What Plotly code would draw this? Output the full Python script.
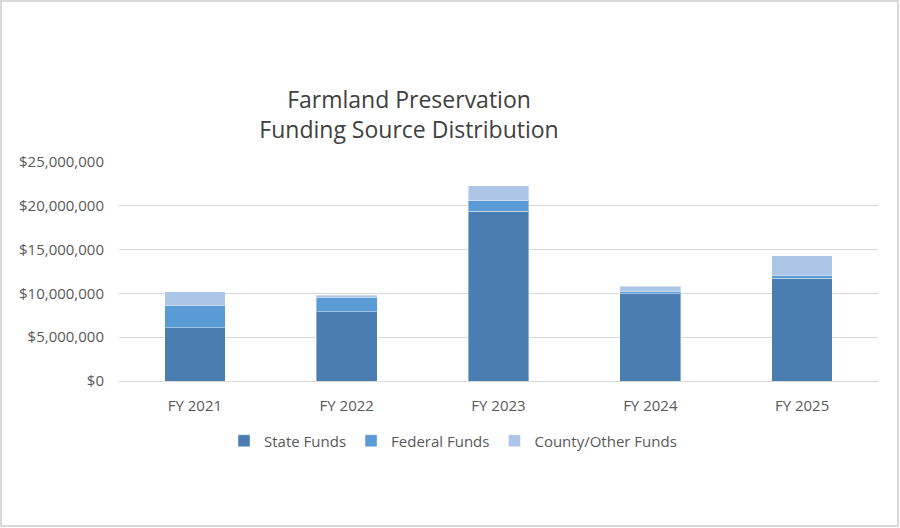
import plotly.graph_objects as go

# Funding by fiscal year (dollars)
years = ["FY 2021", "FY 2022", "FY 2023", "FY 2024", "FY 2025"]
state_funds = [6070000, 7890000, 19350000, 9940000, 11720000]
federal_funds = [2580000, 1670000, 1210000, 230000, 340000]
county_funds = [1520000, 230000, 1710000, 640000, 2240000]

series = [
    ("State Funds", state_funds, "#4a7eb0"),
    ("Federal Funds", federal_funds, "#5b9bd5"),
    ("County/Other Funds", county_funds, "#adc5e6"),
]

fig = go.Figure()
for name, vals, color in series:
    fig.add_trace(go.Bar(
        x=years, y=vals, name=name,
        marker=dict(color=color, line=dict(color="rgba(255,255,255,0.4)", width=1)),
    ))

# margins in px, used also for the outer border
ml, mr, mt, mb = 119, 22, 162, 147
W, H = 900, 528
pw, ph = W - ml - mr, H - mt - mb

fig.update_layout(
    width=W, height=H,
    barmode="stack",
    bargap=0.6,
    plot_bgcolor="white",
    paper_bgcolor="white",
    font=dict(family="Open Sans", size=15, color="#595959"),
    margin=dict(l=ml, r=mr, t=mt, b=mb),
    title=dict(
        text="Farmland Preservation<br>Funding Source Distribution",
        x=409 / W, xanchor="center",
        y=1 - 108 / H, yanchor="middle",
        font=dict(family="Open Sans", size=23, color="#404040"),
    ),
    xaxis=dict(showgrid=False, showline=False, ticks="",
               tickfont=dict(size=15), ticklabelstandoff=14),
    yaxis=dict(
        range=[0, 25000000], dtick=5000000,
        tickprefix="$", tickformat=",.0f",
        gridcolor="#d9d9d9", gridwidth=1,
        zeroline=True, zerolinecolor="#d9d9d9", zerolinewidth=1,
        showline=False, ticks="", ticklen=0,
        tickfont=dict(size=15), ticklabelstandoff=14,
    ),
    legend=dict(
        orientation="h", x=(453 - ml) / pw, xanchor="center",
        y=(381 - 441) / ph, yanchor="middle",
        font=dict(size=15, color="#595959"),
        itemwidth=30, traceorder="normal",
    ),
    shapes=[dict(
        type="rect", xref="paper", yref="paper", layer="below",
        x0=(1 - ml) / pw, x1=(898 - ml) / pw,
        y0=(H - mb - 526) / ph, y1=(H - mb - 1) / ph,
        line=dict(color="#d9d9d9", width=2), fillcolor="rgba(0,0,0,0)",
    )],
)

fig.write_html("out.html", config={"displayModeBar": False},
               post_script="document.body.style.margin='0';")
